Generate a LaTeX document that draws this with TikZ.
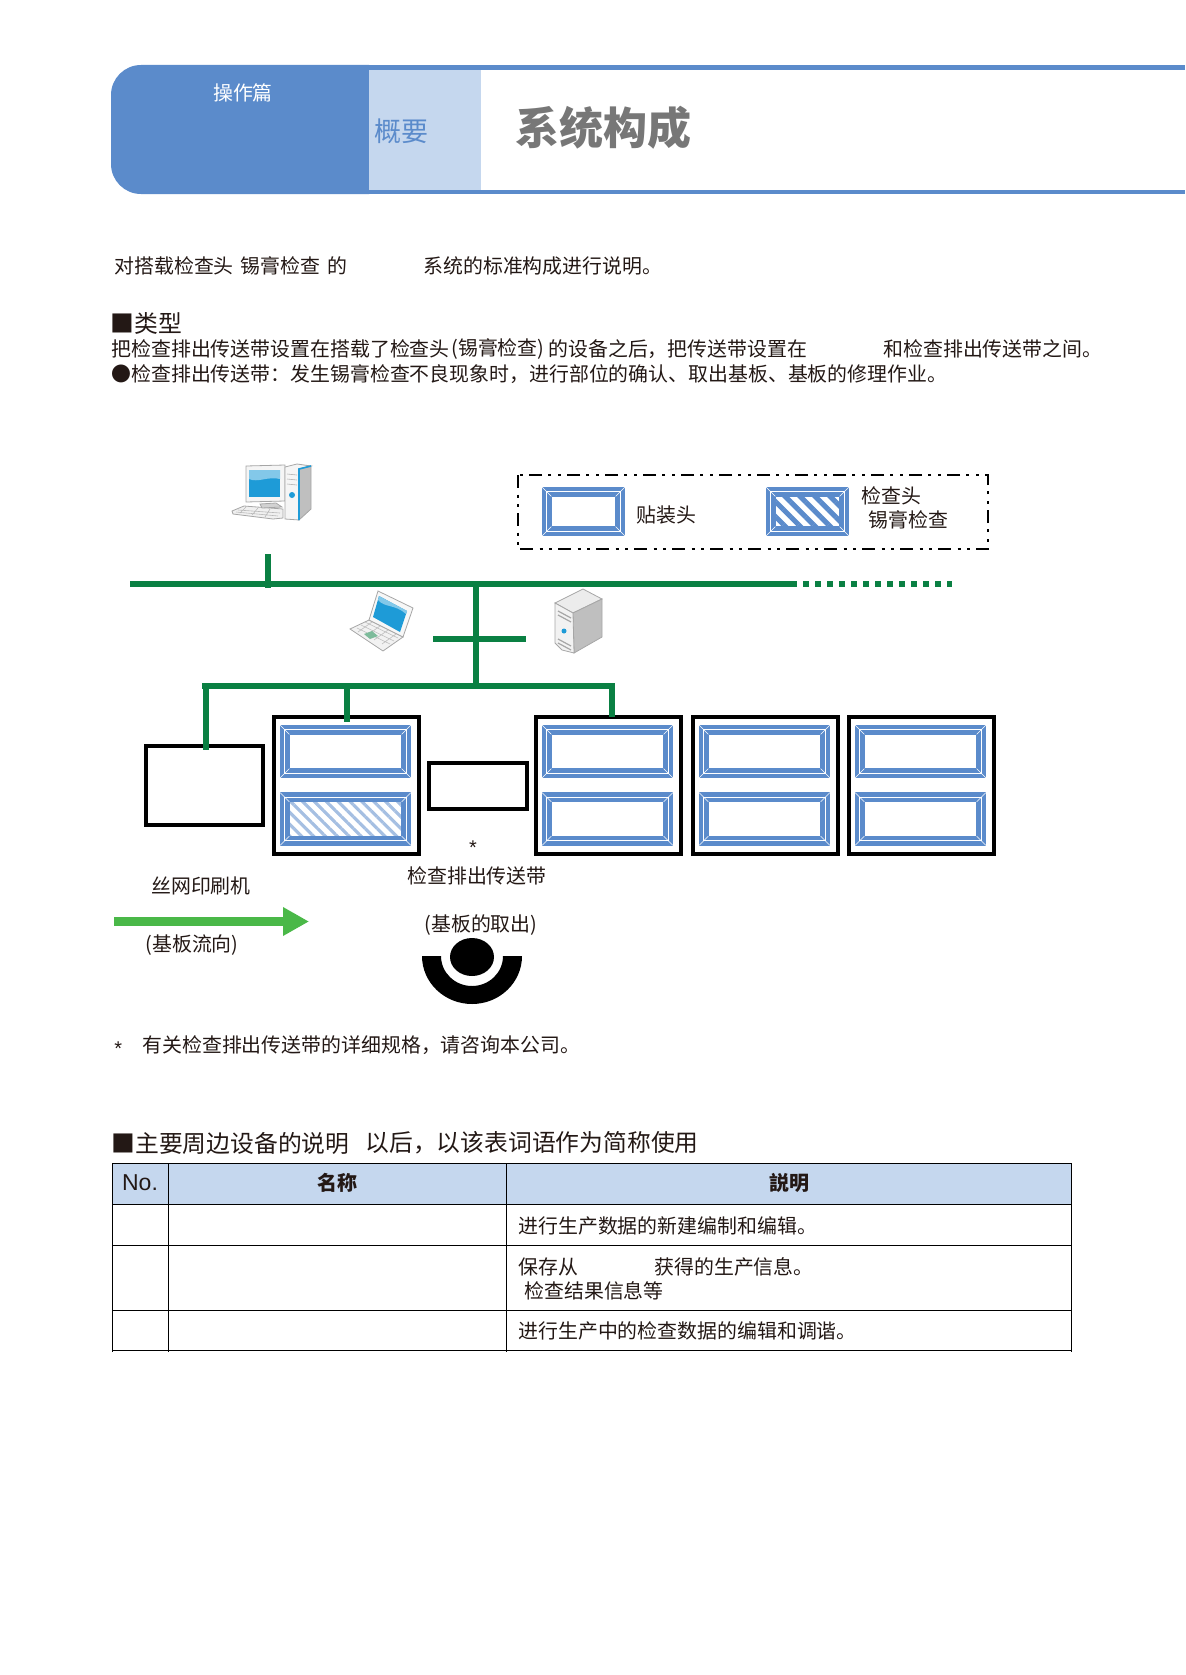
\documentclass[tikz,border=0pt]{standalone}
\usepackage{fontspec}
\setmainfont{Noto Sans CJK SC}
\newfontfamily\latinfont{Liberation Sans}
\usetikzlibrary{arrows.meta,patterns.meta}

\definecolor{pageblue}{HTML}{5B8BCB}
\definecolor{paleblue}{HTML}{C5D7EE}
\definecolor{netgreen}{HTML}{0A8043}
\definecolor{flowgreen}{HTML}{4AB848}
\definecolor{inkgray}{HTML}{777777}
\definecolor{ink}{HTML}{231815}
\definecolor{screenblue}{HTML}{1E9BD7}
\definecolor{padgreen}{HTML}{7DBB9B}

\tikzset{
    txt/.style={anchor=west, inner sep=0pt, text=ink, font=\fontsize{9.95}{12}\selectfont},
    mid/.style={txt, anchor=center},
    bigtxt/.style={txt, font=\fontsize{11.9}{14}\selectfont},
    net/.style={draw=netgreen, line width=3pt},
    machinebox/.style={draw=black, line width=2pt, minimum width=72.5pt, minimum height=68.5pt, inner sep=0pt},
    headbox/.style={draw=pageblue, line width=2.15pt, double=white, double distance=0.55pt, inner sep=0pt, outer sep=0pt,
        minimum width=60.75pt, minimum height=21.75pt},
    legendhead/.style={headbox, minimum width=36.75pt, minimum height=19.75pt},
    cell/.style={draw=black, line width=0.5pt},
    casing/.style={draw=gray!70, line width=0.4pt},
    bevel/.style={draw=white, line width=0.3pt},
}

% corner mitres of a head frame
\newcommand{\headbevel}[1]{
    \draw[bevel] ([shift={(-2.3pt,2.3pt)}]#1.north west) -- ([shift={(2.3pt,-2.3pt)}]#1.north west);
    \draw[bevel] ([shift={(2.3pt,2.3pt)}]#1.north east) -- ([shift={(-2.3pt,-2.3pt)}]#1.north east);
    \draw[bevel] ([shift={(-2.3pt,-2.3pt)}]#1.south west) -- ([shift={(2.3pt,2.3pt)}]#1.south west);
    \draw[bevel] ([shift={(2.3pt,-2.3pt)}]#1.south east) -- ([shift={(-2.3pt,2.3pt)}]#1.south east);
}

\begin{document}
\begin{tikzpicture}[x=0.5pt, y=-0.5pt]
    \useasboundingbox (0,0) rectangle (1185,1675);

    % Page header
    \fill[pageblue] (369,65) [rounded corners=15pt] -- (111,65) -- (111,194) [sharp corners] -- (369,194) -- cycle;
    \fill[paleblue] (369,70) rectangle (481,190);
    \fill[pageblue] (369,65) rectangle (1185,70);
    \fill[pageblue] (369,190) rectangle (1185,194);
    \node[mid, text=white] (part) at (243,93) {操作篇};
    \node[txt, text=pageblue, font=\fontsize{13.5}{16}\selectfont] (chapter) at (374,131) {概要};
    \node[txt, text=inkgray, font=\fontsize{22}{26}\selectfont\bfseries] (title) at (515,128) {系统构成};

    % Intro text
    \node[txt] (introA) at (114,266) {对搭载检查头};
    \node[txt] (introB) at (240,266) {锡膏检查};
    \node[txt] (introC) at (327,266) {的};
    \node[txt] (introD) at (423,266) {系统的标准构成进行说明。};
    \node[bigtxt] (kind) at (110,323) {■类型};
    \node[txt] (kindA) at (111,349) {把检查排出传送带设置在搭载了检查头};
    \node[txt] (kindB) at (451,349) {(锡膏检查)};
    \node[txt] (kindC) at (548,349) {的设备之后，把传送带设置在};
    \node[txt] (kindD) at (883,349) {和检查排出传送带之间。};
    \node[txt] (kindE) at (111,374) {●检查排出传送带：发生锡膏检查不良现象时，进行部位的确认、取出基板、基板的修理作业。};

    % Legend
    \draw[black, line width=1.2pt, dash pattern=on 6.5pt off 3.25pt on 1.5pt off 3.25pt on 1.5pt off 3pt]
        (518,475) rectangle (988,549);
    \node[legendhead] (legendA) at (583.5,511.5) {};
    \node[legendhead, pattern={Lines[angle=-45,distance=5.3pt,line width=2.5pt]}, pattern color=pageblue] (legendB) at (807.5,511.5) {};
    \headbevel{legendA}
    \headbevel{legendB}
    \node[txt] (legendAtext) at (636,515) {贴装头};
    \node[txt] (legendBtext) at (861,496) {检查头};
    \node[txt] (legendCtext) at (868,520) {锡膏检查};

    % Machines
    \node[machinebox, minimum width=58.5pt, minimum height=39.5pt] (printer) at (204.5,785.5) {};
    \node[machinebox, minimum width=49pt, minimum height=23pt] (conveyor) at (477.5,786) {};
    \node[machinebox] (mountA) at (346.5,785.5) {};
    \node[headbox] (headA) at (345.5,751.5) {};
    \node[headbox, pattern={Lines[angle=-45,distance=4.2pt,line width=1.6pt]}, pattern color=pageblue!55] (headB) at (345.5,819) {};
    \headbevel{headA}
    \headbevel{headB}
    \foreach \col/\x/\hx in {B/608/607.5, C/765.5/764.5, D/921.5/920.5} {
        \node[machinebox] (mount\col) at (\x,785.5) {};
        \node[headbox] (top\col) at (\hx,751.5) {};
        \node[headbox] (low\col) at (\hx,819) {};
        \headbevel{top\col}
        \headbevel{low\col}
    }

    % Network
    \coordinate (busW) at (130,584);
    \coordinate (busE) at (793,584);
    \coordinate (busEnd) at (952,584);
    \coordinate (pcStub) at (268,554);
    \coordinate (pcJoin) at (268,588);
    \coordinate (trunkT) at (476,584);
    \coordinate (trunkB) at (476,686);
    \coordinate (armW) at (433,639);
    \coordinate (armE) at (526,639);
    \coordinate (lanW) at (202,686);
    \coordinate (lanE) at (615,686);
    \draw[net] (busW) -- (busE);
    \draw[net, dash pattern=on 3pt off 3pt, dash phase=1pt] (busE) -- (busEnd);
    \draw[net] (pcStub) -- (pcJoin);
    \draw[net] (trunkT) -- (trunkB);
    \draw[net] (armW) -- (armE);
    \draw[net] (lanW) -- (lanE);
    \draw[net] (206,683) -- (206,750);
    \draw[net] (347,683) -- (347,722);
    \draw[net] (612,683) -- (612,717);

    % Desktop
    \filldraw[casing, fill=gray!12] (232,511) -- (244,506) -- (283,509) -- (283,518) -- (273,519) -- (233,514) -- cycle;
    \draw[gray!55, line width=0.3pt] (238,510) -- (280,513) (236,512) -- (278,516) (246,507) -- (240,513) (258,508) -- (252,515) (270,509) -- (265,517);
    \filldraw[casing, fill=gray!35] (260,504) -- (276,503) -- (282,507) -- (262,508) -- cycle;
    \filldraw[casing, fill=gray!8] (246,466) -- (285,465) -- (285,501) -- (246,502) -- cycle;
    \fill[screenblue] (249,470) rectangle (280,497);
    \fill[screenblue!55] (249,470) -- (280,470) -- (280,479) .. controls (268,476) and (258,483) .. (249,479) -- cycle;
    \filldraw[casing, fill=gray!8] (285,467) -- (297,464) -- (311,466) -- (299,469) -- (299,520) -- (285,519) -- cycle;
    \filldraw[casing, fill=gray!50] (299,469) -- (311,466) -- (311,509) -- (299,520) -- cycle;
    \draw[screenblue, line width=0.8pt] (311,466) -- (299,469) -- (299,520);
    \draw[gray!60, line width=0.3pt] (287,474) -- (297,475) (287,479) -- (297,480) (287,484) -- (297,485);
    \fill[screenblue] (292,495) circle[radius=3];

    % Laptop
    \filldraw[casing, fill=gray!10] (369,620) -- (403,637) -- (383,651) -- (350,629) -- cycle;
    \filldraw[casing, fill=gray!6] (378,591) -- (413,608) -- (403,637) -- (369,620) -- cycle;
    \fill[screenblue] (379,596) -- (407,611) -- (400,632) -- (373,617) -- cycle;
    \fill[screenblue!55] (379,596) -- (407,611) -- (406,614) .. controls (395,604) and (385,608) .. (378,600) -- cycle;
    \draw[gray!50, line width=0.3pt] (365,622) -- (398,638) (361,625) -- (394,641) (357,628) -- (390,644)
        (372,622) -- (358,632) (380,626) -- (366,636) (388,630) -- (374,640) (396,634) -- (382,644);
    \fill[padgreen] (364,634) -- (372,631) -- (378,636) -- (370,639) -- cycle;

    % Server
    \filldraw[casing, fill=gray!15] (555,603) -- (583,589) -- (602,599) -- (573,613) -- cycle;
    \filldraw[casing, fill=gray!50] (573,613) -- (602,599) -- (602,637) -- (574,653) -- cycle;
    \filldraw[casing, fill=gray!10] (555,603) -- (573,613) -- (574,653) -- (562,650) -- (555,643) -- cycle;
    \draw[gray!70, line width=0.6pt] (558,611) -- (571,618) (558,615) -- (571,622) (558,639) -- (571,646) (558,643) -- (571,650);
    \fill[screenblue] (564,631) circle[radius=2.5];

    % Machine labels
    \node[mid] (star) at (473,848) {\latinfont *};
    \node[mid] (printertext) at (201,886) {丝网印刷机};
    \node[mid] (conveyortext) at (477,876) {检查排出传送带};

    % Board flow
    \coordinate (flowA) at (114,921.5);
    \coordinate (flowB) at (309,921.5);
    \draw[flowgreen, line width=4.5pt, -{Triangle[length=13pt,width=13.5pt]}] (flowA) -- (flowB);
    \node[mid] (flowtext) at (192,945) {(基板流向)};

    % Operator
    \node[mid] (operatortext) at (481,925) {(基板的取出)};
    \fill[black] (472,957) ellipse[x radius=22, y radius=19];
    \fill[black] (422,956) arc[start angle=180, end angle=0, x radius=50, y radius=48]
        -- (503,956) arc[start angle=0, end angle=180, x radius=31, y radius=30] -- cycle;
    \node[txt] (notemark) at (114,1049) {\latinfont *};
    \node[txt] (note) at (142,1045) {有关检查排出传送带的详细规格，请咨询本公司。};

    % Table
    \node[bigtxt] (tablehead) at (111,1143) {■主要周边设备的说明};
    \node[bigtxt] (tablenote) at (365,1143) {以后，以该表词语作为简称使用};
    \fill[paleblue] (112,1163) rectangle (1071,1204);
    \foreach \y in {1163,1204,1245,1310,1350}
        \draw[cell] (112,\y) -- (1071,\y);
    \foreach \x in {112,168,1071}
        \draw[cell] (\x,1163) -- (\x,1352);
    \draw[black, line width=0.4pt] (506.5,1163) -- (506.5,1352);
    \node[mid, font=\fontsize{11.5}{14}\latinfont] (colNo) at (140,1183) {No.};
    \node[mid, font=\fontsize{10}{12}\selectfont\bfseries] (colName) at (337,1183) {名称};
    \node[mid, font=\fontsize{10}{12}\selectfont\bfseries] (colInfo) at (789,1183) {説明};
    \node[txt] (rowA) at (518,1226) {进行生产数据的新建编制和编辑。};
    \node[txt] (rowB) at (518,1267) {保存从};
    \node[txt] (rowC) at (654,1267) {获得的生产信息。};
    \node[txt] (rowD) at (524,1291) {检查结果信息等};
    \node[txt] (rowE) at (518,1331) {进行生产中的检查数据的编辑和调谐。};
\end{tikzpicture}
\end{document}
